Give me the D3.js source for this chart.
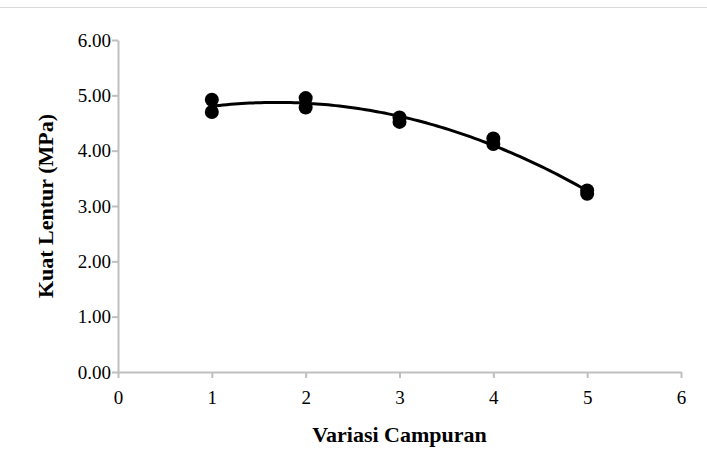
<!DOCTYPE html>
<html>
<head>
<meta charset="utf-8">
<script src="https://cdn.jsdelivr.net/npm/d3@7"></script>
<style>
  html, body { margin: 0; padding: 0; background: #fff; }
  svg { display: block; }
  svg text { font-family: "Liberation Serif", "Times New Roman", serif !important; fill: #000; }
</style>
</head>
<body>
<svg id="chart" width="707" height="450"></svg>
<script>
// Data
const variasi = [1, 1, 2, 2, 3, 3, 4, 4, 5, 5];
const kuatLentur = [4.92, 4.70, 4.95, 4.78, 4.60, 4.52, 4.22, 4.12, 3.28, 3.22];
const xTicks = [0, 1, 2, 3, 4, 5, 6];
const yTicks = [0, 1, 2, 3, 4, 5, 6];
const xTitle = "Variasi Campuran";
const yTitle = "Kuat Lentur (MPa)";

const svg = d3.select("#chart");
const W = 707, H = 450;
const margin = { left: 118, right: 26, top: 40, bottom: 78 };

const x = d3.scaleLinear().domain([0, 6]).range([margin.left, W - margin.right]);
const y = d3.scaleLinear().domain([0, 6]).range([H - margin.bottom, margin.top]);

// faint chart frame line at top
svg.append("line")
  .attr("x1", 0).attr("x2", W).attr("y1", 7.5).attr("y2", 7.5)
  .attr("stroke", "#d9d9d9").attr("stroke-width", 1);

const axisColor = "#bfbfbf";
const serif = "'Liberation Serif', 'Times New Roman', serif";

// X axis
const gx = svg.append("g")
  .attr("transform", `translate(0,${y(0)})`)
  .call(d3.axisBottom(x).tickValues(xTicks).tickFormat(d3.format("d")).tickSizeInner(6).tickSizeOuter(0).tickPadding(13));
gx.attr("font-family", serif).attr("font-size", 19);
gx.select(".domain").attr("stroke", axisColor).attr("stroke-width", 2);
gx.selectAll(".tick line").attr("stroke", axisColor).attr("stroke-width", 2);
gx.selectAll(".tick text").style("font-size", "19px").style("font-family", serif).attr("fill", "#000");

// Y axis
const gy = svg.append("g")
  .attr("transform", `translate(${x(0)},0)`)
  .call(d3.axisLeft(y).tickValues(yTicks).tickFormat(d3.format(".2f")).tickSizeInner(6).tickSizeOuter(0).tickPadding(1));
gy.attr("font-family", serif).attr("font-size", 19);
gy.select(".domain").attr("stroke", axisColor).attr("stroke-width", 2);
gy.selectAll(".tick line").attr("stroke", axisColor).attr("stroke-width", 2);
gy.selectAll(".tick text").style("font-size", "19px").style("font-family", serif).attr("fill", "#000");

// Polynomial (order 2) trendline by least squares on the data
function polyfit2(xs, ys) {
  let n = xs.length, sx = 0, sx2 = 0, sx3 = 0, sx4 = 0, sy = 0, sxy = 0, sx2y = 0;
  for (let i = 0; i < n; i++) {
    const a = xs[i], b = ys[i];
    sx += a; sx2 += a * a; sx3 += a * a * a; sx4 += a * a * a * a;
    sy += b; sxy += a * b; sx2y += a * a * b;
  }
  const M = [[n, sx, sx2, sy], [sx, sx2, sx3, sxy], [sx2, sx3, sx4, sx2y]];
  for (let c = 0; c < 3; c++) {
    let p = c;
    for (let r = c + 1; r < 3; r++) if (Math.abs(M[r][c]) > Math.abs(M[p][c])) p = r;
    [M[c], M[p]] = [M[p], M[c]];
    for (let r = 0; r < 3; r++) {
      if (r === c) continue;
      const f = M[r][c] / M[c][c];
      for (let k = c; k < 4; k++) M[r][k] -= f * M[c][k];
    }
  }
  return [M[0][3] / M[0][0], M[1][3] / M[1][1], M[2][3] / M[2][2]];
}
const coef = polyfit2(variasi, kuatLentur);
const xMin = d3.min(variasi), xMax = d3.max(variasi);
const trend = d3.range(0, 101).map(i => {
  const xv = xMin + (xMax - xMin) * i / 100;
  return [xv, coef[0] + coef[1] * xv + coef[2] * xv * xv];
});
svg.append("path")
  .datum(trend)
  .attr("fill", "none")
  .attr("stroke", "#000")
  .attr("stroke-width", 3)
  .attr("d", d3.line().x(d => x(d[0])).y(d => y(d[1])));

// Points
svg.append("g").selectAll("circle")
  .data(variasi.map((v, i) => ({ x: v, y: kuatLentur[i] })))
  .join("circle")
  .attr("cx", d => x(d.x))
  .attr("cy", d => y(d.y))
  .attr("r", 7)
  .attr("fill", "#000");

// Axis titles
svg.append("text")
  .attr("x", (x(0) + x(6)) / 2)
  .attr("y", 442)
  .attr("text-anchor", "middle")
  .style("font-size", "22px")
  .style("font-weight", "bold")
  .text(xTitle);

svg.append("text")
  .attr("transform", `translate(53,${(y(0) + y(6)) / 2}) rotate(-90)`)
  .attr("text-anchor", "middle")
  .style("font-size", "22px")
  .style("font-weight", "bold")
  .text(yTitle);
</script>
</body>
</html>
